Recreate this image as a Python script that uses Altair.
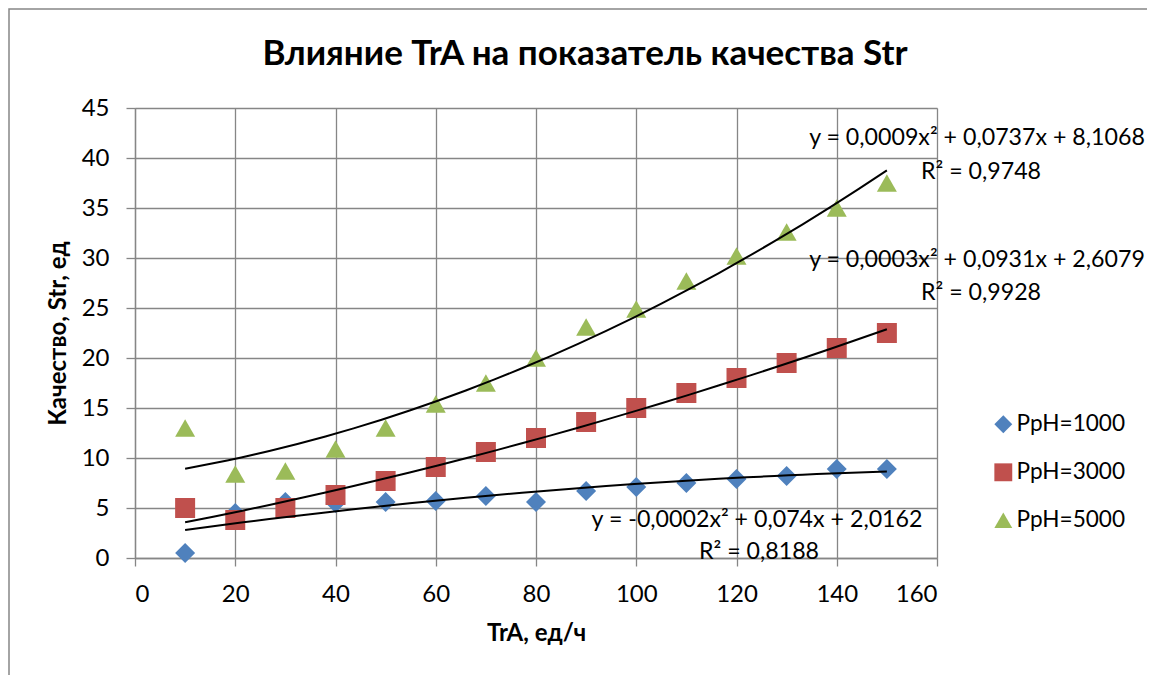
import altair as alt
import pandas as pd

# ---- data ----
tra = [10, 20, 30, 40, 50, 60, 70, 80, 90, 100, 110, 120, 130, 140, 150]
ph1000 = [0.5, 4.5, 5.6, 5.5, 5.6, 5.7, 6.2, 5.6, 6.7, 7.1, 7.5, 7.9, 8.2, 8.9, 8.9]
ph3000 = [5.0, 3.8, 5.0, 6.3, 7.7, 9.1, 10.6, 12.0, 13.6, 15.0, 16.5, 18.0, 19.5, 21.0, 22.5]
ph5000 = [13.0, 8.4, 8.7, 10.9, 13.0, 15.4, 17.5, 20.0, 23.1, 24.9, 27.7, 30.2, 32.6, 35.0, 37.5]
series_names = ["PpH=1000", "PpH=3000", "PpH=5000"]
series_colors = ["#4F81BD", "#C0504D", "#9BBB59"]
series_shapes = ["diamond", "square", "triangle-up"]
x_ticks = [0, 20, 40, 60, 80, 100, 120, 140, 160]
y_ticks = [0, 5, 10, 15, 20, 25, 30, 35, 40, 45]

title_text = "Влияние TrA на показатель качества Str"
x_title = "TrA, ед/ч"
y_title = "Качество, Str, ед"
eq_texts = [
    ("y = 0,0009x² + 0,0737x + 8,1068", "R² = 0,9748"),
    ("y = 0,0003x² + 0,0931x + 2,6079", "R² = 0,9928"),
    ("y = -0,0002x² + 0,074x + 2,0162", "R² = 0,8188"),
]

rows = []
for name, vals in zip(series_names, [ph1000, ph3000, ph5000]):
    for xv, yv in zip(tra, vals):
        rows.append({"TrA": xv, "Str": yv, "series": name})
df = pd.DataFrame(rows)

FONT = "Lato"
GRID = "#868686"

xs = alt.Scale(domain=[0, 160], nice=False)
ys = alt.Scale(domain=[0, 45], nice=False)

leg = alt.Legend(title=None, orient="none", legendX=857, legendY=305,
                 labelFontSize=22.6, labelFont=FONT, labelColor="black",
                 symbolSize=320, symbolStrokeWidth=0, rowPadding=25,
                 labelOffset=2, padding=0)

points = alt.Chart(df).mark_point(filled=True, size=400, opacity=1, strokeWidth=0).encode(
    x=alt.X("TrA:Q", scale=xs, axis=alt.Axis(
        values=x_ticks, title=x_title, grid=True, gridColor=GRID, gridWidth=1.3,
        domainColor=GRID, domainWidth=1.3, tickColor=GRID, tickWidth=1.3, tickSize=8,
        labelFontSize=24, labelColor="black", labelPadding=16, labelFont=FONT,
        titleFont=FONT, titleFontSize=24, titleFontWeight="bold", titleColor="black",
        titleX=401, titleY=75, titleBaseline="middle", titleAlign="center")),
    y=alt.Y("Str:Q", scale=ys, axis=alt.Axis(
        values=y_ticks, title=y_title, grid=True, gridColor=GRID, gridWidth=1.3,
        domainColor=GRID, domainWidth=1.3, tickColor=GRID, tickWidth=1.3, tickSize=9,
        labelFontSize=24, labelColor="black", labelPadding=17, labelFont=FONT,
        titleFont=FONT, titleFontSize=24, titleFontWeight="bold", titleColor="black",
        titleX=-77, titleY=225, titleBaseline="middle", titleAlign="center", titleAngle=-90)),
    color=alt.Color("series:N", scale=alt.Scale(domain=series_names, range=series_colors),
                    legend=leg),
    shape=alt.Shape("series:N", scale=alt.Scale(domain=series_names, range=series_shapes),
                    legend=leg),
)

trend = alt.Chart(df).transform_regression(
    "TrA", "Str", method="poly", order=2, groupby=["series"]
).mark_line(color="black", strokeWidth=2).encode(
    x=alt.X("TrA:Q", scale=xs),
    y=alt.Y("Str:Q", scale=ys),
    detail="series:N",
)

one = pd.DataFrame({"k": [0]})


def label(text, px, py, size=23.2, weight="normal", baseline="middle"):
    return alt.Chart(one).mark_text(
        text=text, font=FONT, fontSize=size, fontWeight=weight, color="black",
        align="center", baseline=baseline
    ).encode(x=alt.value(px), y=alt.value(py))


border = alt.Chart(one).mark_rect(fill=None, stroke=GRID, strokeWidth=1.5).encode(
    x=alt.value(-126), x2=alt.value(1200), y=alt.value(-99), y2=alt.value(700)
)

labels = [
    label(title_text, 450, -43, size=35, weight="bold", baseline="alphabetic"),
    label(eq_texts[0][0], 842, 30), label(eq_texts[0][1], 846, 64),
    label(eq_texts[1][0], 842, 152), label(eq_texts[1][1], 846, 185),
    label(eq_texts[2][0], 622, 412), label(eq_texts[2][1], 624, 444),
]

chart = alt.layer(border, points, trend, *labels).properties(
    width=802, height=450,
    autosize=alt.AutoSizeParams(type="none"),
    padding={"left": 127, "top": 100, "right": 210, "bottom": 117},
    background="white",
).configure_view(strokeWidth=0).configure(font=FONT)

chart.save("out.html", embed_options={"renderer": "svg", "actions": False})
